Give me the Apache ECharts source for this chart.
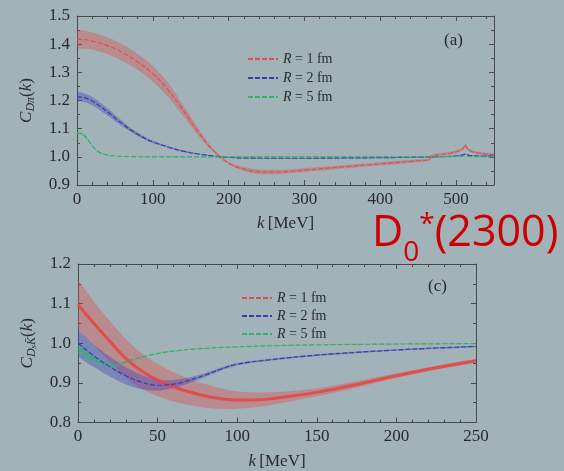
<!DOCTYPE html>
<html>
<head>
<meta charset="utf-8">
<script src="https://cdn.jsdelivr.net/npm/echarts@6/dist/echarts.min.js"></script>
<style>
html, body { margin: 0; padding: 0; background: #a1b3b9; }
#chart { width: 564px; height: 471px; }
</style>
</head>
<body>
<div id="chart"></div>
<script>
// panel (a): C_Dpi(k)
var redK_a = [0,20,40,60,80,100,120,140,160,180,200,220,240,260,280,300,350,400,450,465,468,480,490,500,505,510,512,514,520,530,540,550];
var redMid_a = [1.418,1.411,1.395,1.370,1.337,1.295,1.238,1.165,1.088,1.022,0.978,0.957,0.947,0.946,0.948,0.953,0.964,0.975,0.986,0.990,1.004,1.008,1.012,1.018,1.023,1.032,1.044,1.032,1.020,1.013,1.010,1.008];
var redErr_a = [0.030,0.030,0.030,0.030,0.029,0.028,0.025,0.020,0.013,0.006,0.004,0.007,0.008,0.008,0.007,0.007,0.006,0.006,0.005,0.005,0.005,0.005,0.005,0.005,0.005,0.005,0.005,0.005,0.005,0.004,0.004,0.004];

var blueK_a = [0,10,20,30,40,50,60,70,80,90,100,120,140,160,180,200,220,260,300,350,400,450,470,500,508,512,516,520,535,550];
var blueMid_a = [1.214,1.210,1.198,1.180,1.160,1.138,1.117,1.097,1.080,1.065,1.053,1.035,1.020,1.010,1.003,0.998,0.996,0.995,0.995,0.996,0.997,0.999,1.000,1.003,1.006,1.010,1.006,1.004,1.003,1.003];
var blueErr_a = [0.015,0.015,0.015,0.014,0.013,0.011,0.009,0.007,0.006,0.005,0.004,0.003,0.003,0.002,0.002,0.002,0.002,0.002,0.002,0.002,0.002,0.002,0.002,0.002,0.002,0.002,0.002,0.002,0.002,0.002];

var greenK_a = [0,5,10,15,20,25,30,40,50,70,100,200,300,400,500,512,520,550];
var greenMid_a = [1.085,1.083,1.075,1.058,1.040,1.025,1.015,1.007,1.003,1.001,1.000,1.000,1.000,1.000,1.001,1.003,1.001,1.000];
var greenErr_a = [0.005,0.005,0.005,0.004,0.003,0.002,0.002,0.001,0.001,0.001,0.001,0.001,0.001,0.001,0.001,0.001,0.001,0.001];

// panel (c): C_DsKbar(k)
var redK_c = [0,10,20,30,40,50,60,70,80,90,100,110,125,150,175,200,225,250];
var redMid_c = [1.097,1.050,1.005,0.962,0.930,0.907,0.890,0.877,0.867,0.860,0.857,0.857,0.862,0.876,0.896,0.918,0.938,0.956];
var redErr_c = [0.058,0.055,0.052,0.049,0.045,0.041,0.037,0.033,0.030,0.026,0.022,0.019,0.015,0.010,0.008,0.006,0.005,0.004];

var blueK_c = [0,10,20,30,40,50,60,70,80,90,100,120,150,175,200,225,250];
var blueMid_c = [1.000,0.968,0.941,0.918,0.902,0.894,0.897,0.907,0.920,0.935,0.947,0.958,0.970,0.977,0.983,0.988,0.992];
var blueErr_c = [0.030,0.028,0.025,0.022,0.018,0.014,0.010,0.007,0.005,0.004,0.003,0.002,0.002,0.002,0.002,0.002,0.002];

var greenK_c = [0,10,20,25,30,40,50,60,75,100,125,150,200,250];
var greenMid_c = [0.986,0.960,0.944,0.946,0.953,0.965,0.974,0.980,0.986,0.991,0.994,0.996,0.998,0.999];
var greenErr_c = [0.012,0.010,0.005,0.003,0.002,0.001,0.001,0.001,0.001,0.001,0.001,0.001,0.001,0.001];

var names = ['R = 1 fm', 'R = 2 fm', 'R = 5 fm'];
var xTicks_a = [0, 550, 100];
var yTicks_a = [0.9, 1.5, 0.1];
var xTicks_c = [0, 250, 50];
var yTicks_c = [0.8, 1.2, 0.1];

var BG = '#a1b3b9';
var AX = '#4a4a4a';
var TXT = '#2a2a2a';
var SERIF = 'Liberation Serif';
var RED = '#e05050', BLUE = '#3c3ca6', GREEN = '#2db36a';

// error band as one polygon through api.coord, then the dashed central line
function band(name, k, mid, err, gi, col, fill, core) {
    var ax = {xAxisIndex: gi * 2, yAxisIndex: gi * 2};
    var out = [
        Object.assign({
            type: 'custom', name: name + ' band', silent: true, clip: true, z: 1,
            data: [[k[0], mid[0]]],
            renderItem: function (params, api) {
                var up = k.map(function (x, i) { return api.coord([x, mid[i] + err[i]]); });
                var dn = k.map(function (x, i) { return api.coord([x, mid[i] - err[i]]); }).reverse();
                return {type: 'polygon', shape: {points: up.concat(dn), smooth: 0.25}, style: {fill: fill}};
            }
        }, ax)
    ];
    if (core) {
        out.push(Object.assign({type: 'line', name: name + ' core', smooth: true, symbol: 'none', silent: true, z: 3,
            lineStyle: {color: core, width: 3},
            data: k.map(function (x, i) { return [x, mid[i]]; })}, ax));
    }
    out.push(Object.assign({type: 'line', name: name, smooth: true, symbol: 'none', color: col, z: 4,
        lineStyle: {color: col, width: 1.2, type: [5, 2]},
        data: k.map(function (x, i) { return [x, mid[i]]; })}, ax));
    return out;
}

function axes(gi, xt, yt, xName, yName, showMax) {
    var tick = {show: true, inside: true, length: 5, lineStyle: {color: AX}};
    var minor = {show: true, length: 3, lineStyle: {color: AX}};
    var line = {show: true, onZero: false, lineStyle: {color: AX, width: 1}};
    var lab = {color: TXT, fontFamily: SERIF, fontSize: 17};
    var rich = {
        i: {fontStyle: 'italic', fontFamily: SERIF, fontSize: 17, color: TXT, lineHeight: 20},
        n: {fontFamily: SERIF, fontSize: 17, color: TXT, lineHeight: 20},
        s: {fontStyle: 'italic', fontFamily: SERIF, fontSize: 12, color: TXT, lineHeight: 11, verticalAlign: 'bottom'},
        ss: {fontStyle: 'italic', fontFamily: SERIF, fontSize: 9, color: TXT, lineHeight: 7, verticalAlign: 'bottom'}
    };
    var x = [
        {type: 'value', gridIndex: gi, min: xt[0], max: xt[1], interval: xt[2], position: 'bottom',
            axisLine: line, axisTick: tick, minorTick: Object.assign({splitNumber: 5}, minor), splitLine: {show: false},
            axisLabel: Object.assign({margin: 6, showMaxLabel: showMax}, lab),
            name: xName, nameLocation: 'middle', nameGap: 29, nameTextStyle: {rich: rich}},
        {type: 'value', gridIndex: gi, min: xt[0], max: xt[1], interval: xt[2], position: 'top',
            axisLine: line, axisTick: tick, minorTick: Object.assign({splitNumber: 5}, minor), splitLine: {show: false},
            axisLabel: {show: false}}
    ];
    var y = [
        {type: 'value', gridIndex: gi, min: yt[0], max: yt[1], interval: yt[2], position: 'left',
            axisLine: line, axisTick: tick, minorTick: Object.assign({splitNumber: 2}, minor), splitLine: {show: false},
            axisLabel: Object.assign({margin: 7, formatter: function (v) { return v.toFixed(1); }}, lab),
            name: yName, nameLocation: 'middle', nameGap: 40, nameTextStyle: {rich: rich}},
        {type: 'value', gridIndex: gi, min: yt[0], max: yt[1], interval: yt[2], position: 'right',
            axisLine: line, axisTick: tick, minorTick: Object.assign({splitNumber: 2}, minor), splitLine: {show: false},
            axisLabel: {show: false}}
    ];
    return {x: x, y: y};
}

function legend(left, top, gap) {
    return {
        orient: 'vertical', left: left, top: top, itemWidth: 30, itemHeight: 14, itemGap: gap,
        data: names, selectedMode: false,
        itemStyle: {opacity: 0},
        formatter: function (n) { return '{i|R}' + n.slice(1); },
        textStyle: {fontFamily: SERIF, fontSize: 14, color: TXT,
            rich: {i: {fontFamily: SERIF, fontSize: 14, fontStyle: 'italic', color: TXT}}}
    };
}

var axA = axes(0, xTicks_a, yTicks_a, '{i|k} {n|[MeV]}', '{i|C}{s|Dπ}{n|(}{i|k}{n|)}', false);
var axC = axes(1, xTicks_c, yTicks_c, '{i|k} {n|[MeV]}', '{i|C}{s|D}{ss|s}{s|K\u0304}{n|(}{i|k}{n|)}', true);

var series = [].concat(
    band(names[0], redK_a, redMid_a, redErr_a, 0, RED, 'rgba(225,70,70,0.36)'),
    band(names[1], blueK_a, blueMid_a, blueErr_a, 0, BLUE, 'rgba(60,60,190,0.38)'),
    band(names[2], greenK_a, greenMid_a, greenErr_a, 0, GREEN, 'rgba(40,190,110,0.35)'),
    band(names[0], redK_c, redMid_c, redErr_c, 1, RED, 'rgba(225,70,70,0.36)', 'rgba(236,60,60,0.8)'),
    band(names[1], blueK_c, blueMid_c, blueErr_c, 1, BLUE, 'rgba(60,60,190,0.38)'),
    band(names[2], greenK_c, greenMid_c, greenErr_c, 1, GREEN, 'rgba(40,190,110,0.35)')
);

var chart = echarts.init(document.getElementById('chart'));
chart.setOption({
    animation: false,
    backgroundColor: BG,
    grid: [
        {left: 77, top: 16, width: 417, height: 169},
        {left: 78, top: 264, width: 398, height: 161}
    ],
    xAxis: axA.x.concat(axC.x),
    yAxis: axA.y.concat(axC.y),
    legend: [legend(242, 47, 5), legend(236, 286, 4)],
    graphic: [
        {type: 'text', left: 444, top: 32, style: {text: '(a)', font: '17px "Liberation Serif"', fill: TXT}},
        {type: 'text', left: 428, top: 278, style: {text: '(c)', font: '17px "Liberation Serif"', fill: TXT}},
        {type: 'text', left: 372, top: 211, style: {
            text: '{m|D}{b|0}{p|*}{m|(2300)}', fill: '#cc0000',
            rich: {
                m: {fontFamily: 'Open Sans', fontSize: 43, fill: '#cc0000', lineHeight: 46},
                b: {fontFamily: 'Open Sans', fontSize: 28, fill: '#cc0000', lineHeight: 28, verticalAlign: 'bottom', padding: [0, 0, -10, 0]},
                p: {fontFamily: 'Open Sans', fontSize: 28, fill: '#cc0000', lineHeight: 30, verticalAlign: 'top'}
            }
        }}
    ],
    series: series
});
</script>
</body>
</html>
